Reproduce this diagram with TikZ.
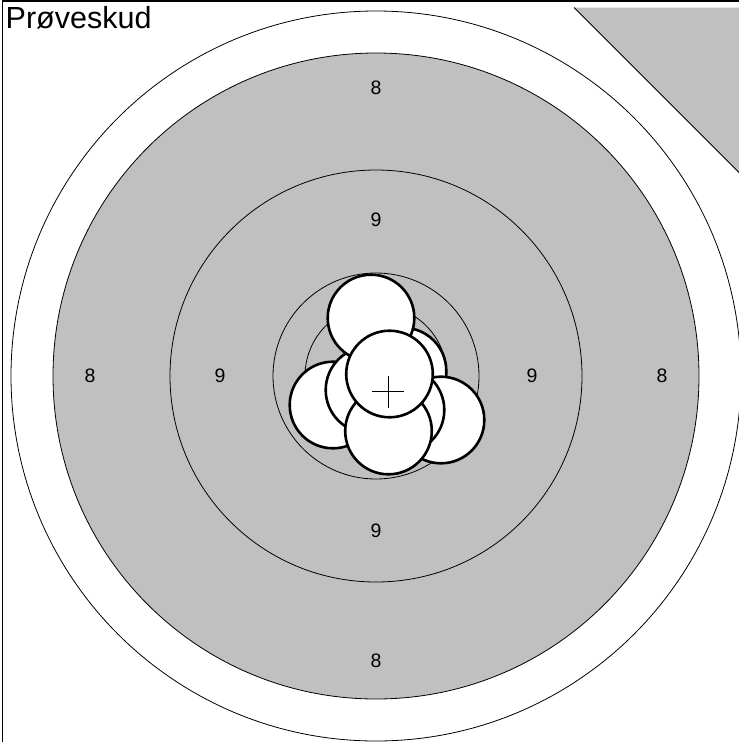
\documentclass[tikz,border=0pt]{standalone}
\usepackage{fontspec}
\setmainfont{Liberation Sans}
\definecolor{ringgrey}{RGB}{192,192,192}
\begin{document}
\begin{tikzpicture}
  [x=1pt,y=-1pt,
   every node/.style={inner sep=0pt,font=\fontsize{19.5}{19.5}\selectfont},
   ring/.style={draw=black,line width=0.8pt},
   shot/.style={draw=black,fill=white,line width=2.6pt}]
  \useasboundingbox (0,0) rectangle (739,742);
  \clip (0,0) rectangle (739,742);
  \fill[white] (0,0) rectangle (739,742);

  % target rings
  \coordinate (c) at (376,376);
  \draw[ring,fill=white] (c) circle[radius=365pt];
  \draw[ring,fill=ringgrey] (c) circle[radius=323pt];
  \foreach \r in {206,103,71}
    \draw[ring] (c) circle[radius=\r pt];

  % corner
  \coordinate (k1) at (574,7.5);
  \coordinate (k2) at (739,172.5);
  \fill[ringgrey] (k1) -- (739,7.5) -- (k2) -- cycle;
  \draw[ring] (k1) -- (k2);

  % frame
  \draw[line width=1.4pt] (2.5,742) -- (2.5,1) -- (739,1);

  \node[anchor=base west,font=\fontsize{30.5}{30.5}\selectfont] (title) at (5.5,28.5) {Prøveskud};

  \foreach \name/\x/\y/\t in {t8/376/88/8, b8/376/661/8, l8/90/376/8, r8/662/376/8,
                              t9/376/220/9, b9/376/531/9, l9/220/376/9, r9/532/376/9}
    \node (\name) at (\x,\y) {\t};

  % shots, back to front
  \foreach \x/\y in {333/405, 403/371, 441/420, 369/390, 401/410, 371/318, 388.5/431, 389.5/374}
    \draw[shot] (\x,\y) circle[radius=43.3pt];

  % mean point of impact
  \coordinate (mpi) at (388.3,391.5);
  \draw[line width=1.1pt] (mpi) ++(-16,0) -- ++(32,0);
  \draw[line width=1.1pt] (mpi) ++(0,-16) -- ++(0,32);
\end{tikzpicture}
\end{document}
